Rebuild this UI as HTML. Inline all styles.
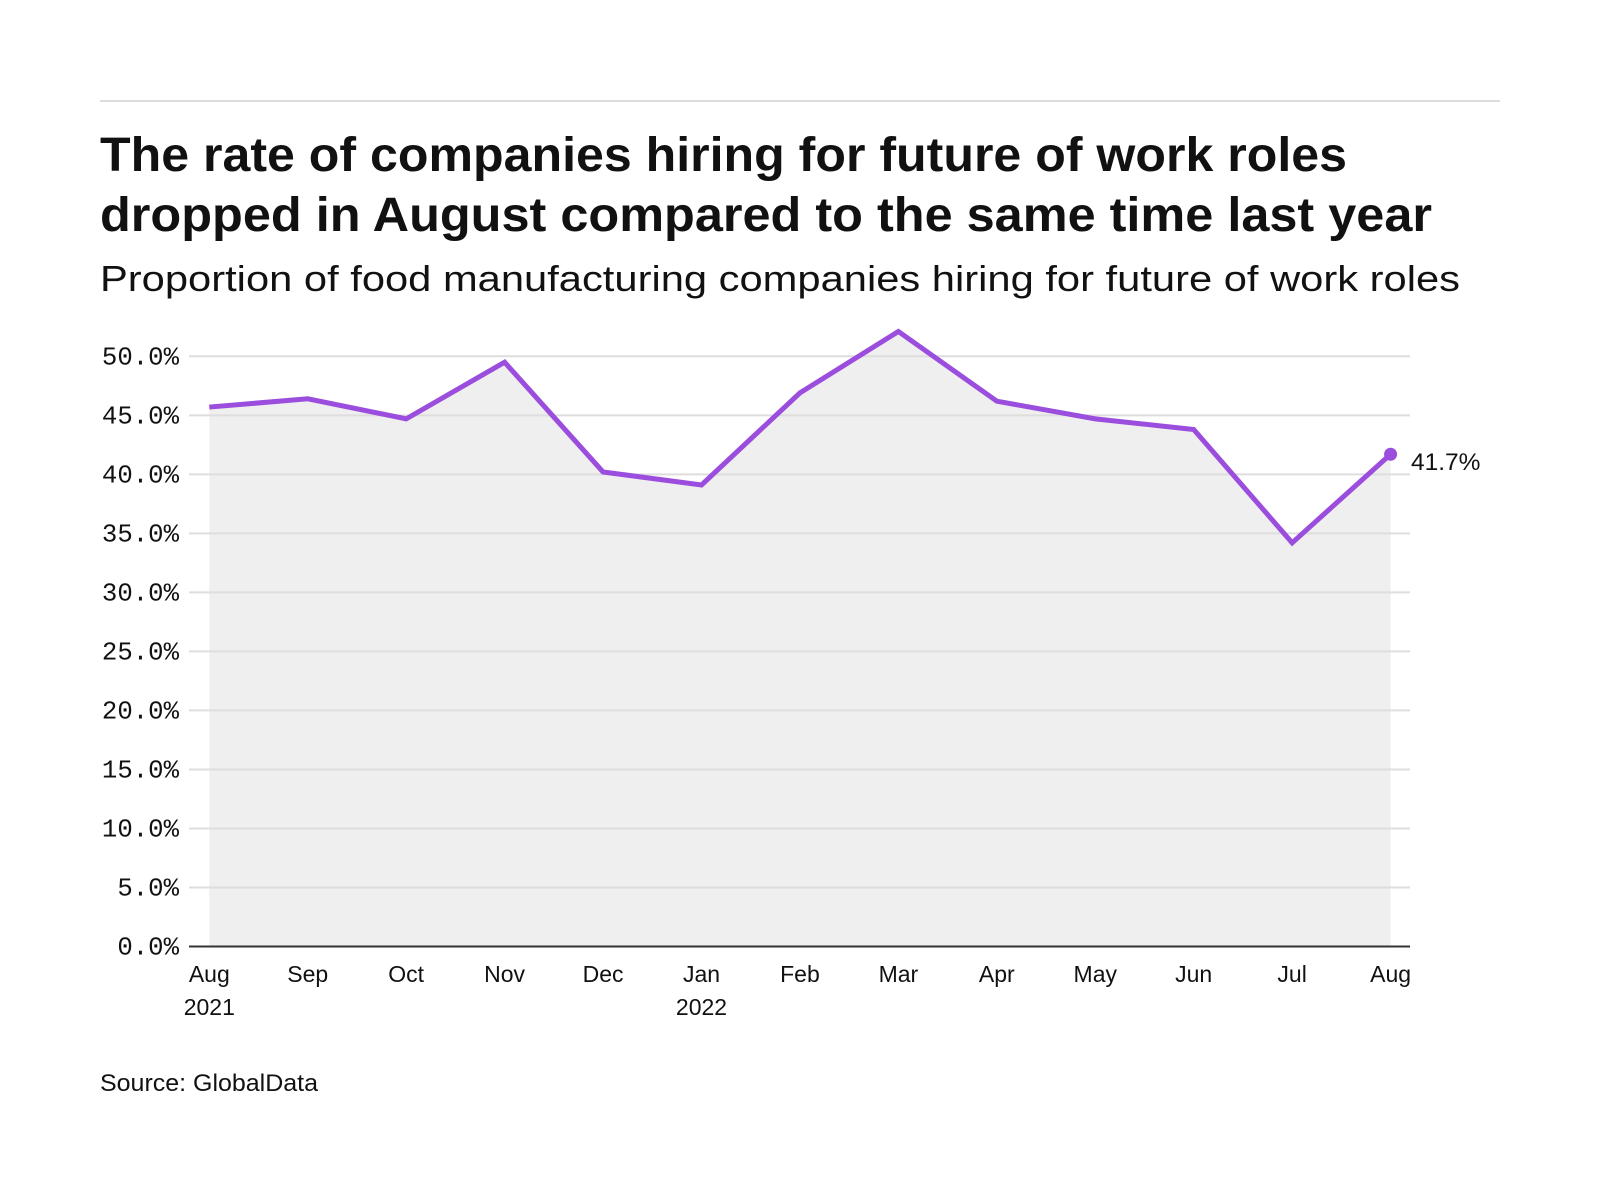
<!DOCTYPE html>
<html><head><meta charset="utf-8"><style>
html,body{margin:0;padding:0;background:#fff;}
svg{display:block;}
text{font-family:"Liberation Sans",sans-serif;fill:#111;}
.mono{font-family:"Liberation Mono",monospace;}
</style></head><body>
<svg width="1600" height="1200" viewBox="0 0 1600 1200" xmlns="http://www.w3.org/2000/svg">
<line x1="100" y1="101" x2="1500" y2="101" stroke="#dcdcdc" stroke-width="2"/>
<text x="100" y="171" font-size="48" font-weight="bold" textLength="1247" lengthAdjust="spacingAndGlyphs">The rate of companies hiring for future of work roles</text>
<text x="100" y="231" font-size="48" font-weight="bold" textLength="1332" lengthAdjust="spacingAndGlyphs">dropped in August compared to the same time last year</text>
<text x="100" y="291" font-size="36" textLength="1360" lengthAdjust="spacingAndGlyphs">Proportion of food manufacturing companies hiring for future of work roles</text>
<g id="chart"></g>
<text x="100" y="1091" font-size="24" textLength="218" lengthAdjust="spacingAndGlyphs">Source: GlobalData</text>
</svg>
<script>
var g=document.getElementById('chart'),ns="http://www.w3.org/2000/svg";
function el(t,a,txt){var e=document.createElementNS(ns,t);for(var k in a)e.setAttribute(k,a[k]);if(txt!=null)e.textContent=txt;g.appendChild(e);return e;}
var y0=946.5,step=59.02/5;function Y(v){return y0-v*step;}
var x0=209.3,dx=98.44;function X(i){return x0+i*dx;}
var vals=[45.7,46.4,44.7,49.5,40.2,39.1,46.9,52.1,46.2,44.7,43.8,34.2,41.7];
var d="M"+X(0)+","+y0;vals.forEach(function(v,i){d+=" L"+X(i)+","+Y(v);});d+=" L"+X(12)+","+y0+"Z";
el('path',{d:d,fill:"#efefef"});
for(var v=5;v<=50;v+=5){el('line',{x1:189,x2:1410,y1:Y(v),y2:Y(v),stroke:"#dedede","stroke-width":2});}
for(var v=0;v<=50;v+=5){el('text',{x:179,y:Y(v)+8,"font-size":25.7,"text-anchor":"end","class":"mono"},v.toFixed(1)+"%");}
el('line',{x1:189,x2:1410,y1:y0,y2:y0,stroke:"#333","stroke-width":2});
var pts=vals.map(function(v,i){return X(i)+","+Y(v);}).join(" ");
el('polyline',{points:pts,fill:"none",stroke:"#9b4ddd","stroke-width":5,"stroke-linejoin":"miter"});
el('circle',{cx:X(12),cy:Y(41.7),r:6.5,fill:"#9b4ddd"});
el('text',{x:1411,y:470,"font-size":24.5},"41.7%");
var m=["Aug","Sep","Oct","Nov","Dec","Jan","Feb","Mar","Apr","May","Jun","Jul","Aug"];
m.forEach(function(s,i){el('text',{x:X(i),y:982,"font-size":23,"text-anchor":"middle"},s);});
el('text',{x:X(0),y:1015,"font-size":23,"text-anchor":"middle"},"2021");
el('text',{x:X(5),y:1015,"font-size":23,"text-anchor":"middle"},"2022");
</script>
</body></html>
